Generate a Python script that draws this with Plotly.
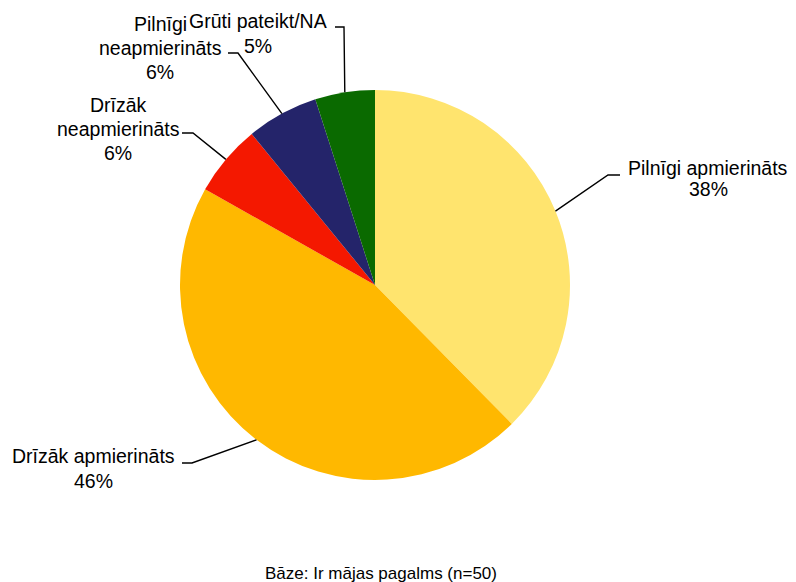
import math
import plotly.graph_objects as go

# ---- data ----
categories = ["Pilnīgi apmierināts", "Drīzāk apmierināts", "Drīzāk neapmierināts",
              "Pilnīgi neapmierināts", "Grūti pateikt/NA"]
values = [38, 46, 6, 6, 5]
label_lines = [["Pilnīgi apmierināts"], ["Drīzāk apmierināts"], ["Drīzāk", "neapmierināts"],
               ["Pilnīgi", "neapmierināts"], ["Grūti pateikt/NA"]]
base_note = "Bāze: Ir mājas pagalms (n=50)"

# ---- style / layout ----
W, H = 796, 582
colors = ["#FFE46E", "#FFB800", "#F41800", "#24246A", "#0A6A00"]
CX, CY, R = 375, 285, 195          # pie centre and radius in pixels
FONT = "Liberation Sans, Arial, sans-serif"
# label block: centre x, first line centre y, line pitch
label_pos = [(708, 168, 21), (93, 456, 24.5), (118, 105, 24), (160, 24, 24), (258, 21, 25)]
# leader: elbow point, horizontal end
leader_pts = [((608, 175), (620, 175)), ((192, 463), (182, 463)), ((193, 133), (182, 133)),
              ((238, 53), (228, 53)), ((344, 27), (335, 27))]


def px(x):
    return x / W


def py(y):
    return 1 - y / H


fig = go.Figure(go.Pie(
    labels=categories, values=values, sort=False, direction="clockwise", rotation=0,
    marker=dict(colors=colors, line=dict(width=0)), textinfo="none", hoverinfo="label+percent",
    domain=dict(x=[px(CX - R), px(CX + R)], y=[py(CY + R), py(CY - R)]),
    showlegend=False,
))

total = sum(values)
cum = 0
annotations = []
shapes = []
for i, v in enumerate(values):
    mid = (cum + v / 2) / total * 2 * math.pi
    cum += v
    sx = CX + R * math.sin(mid)
    sy = CY - R * math.cos(mid)
    (ex, ey), (hx, hy) = leader_pts[i]
    shapes.append(dict(type="path", xref="paper", yref="paper",
                       path=f"M {px(sx)},{py(sy)} L {px(ex)},{py(ey)} L {px(hx)},{py(hy)}",
                       line=dict(color="black", width=1.4)))
    lx, ly, pitch = label_pos[i]
    lines = label_lines[i] + [f"{v}%"]
    for k, t in enumerate(lines):
        annotations.append(dict(text=t, x=px(lx), y=py(ly + k * pitch), xref="paper", yref="paper",
                                xanchor="center", yanchor="middle", showarrow=False,
                                font=dict(family=FONT, size=19.5, color="black")))

annotations.append(dict(text=base_note, x=px(381), y=py(573), xref="paper", yref="paper",
                        xanchor="center", yanchor="middle", showarrow=False,
                        font=dict(family=FONT, size=17, color="black")))

fig.update_layout(width=W, height=H, margin=dict(l=0, r=0, t=0, b=0),
                  paper_bgcolor="white", plot_bgcolor="white",
                  annotations=annotations, shapes=shapes)
fig.write_html("out.html", config={"displayModeBar": False},
               post_script="document.body.style.margin='0px';document.body.style.overflow='hidden';")
